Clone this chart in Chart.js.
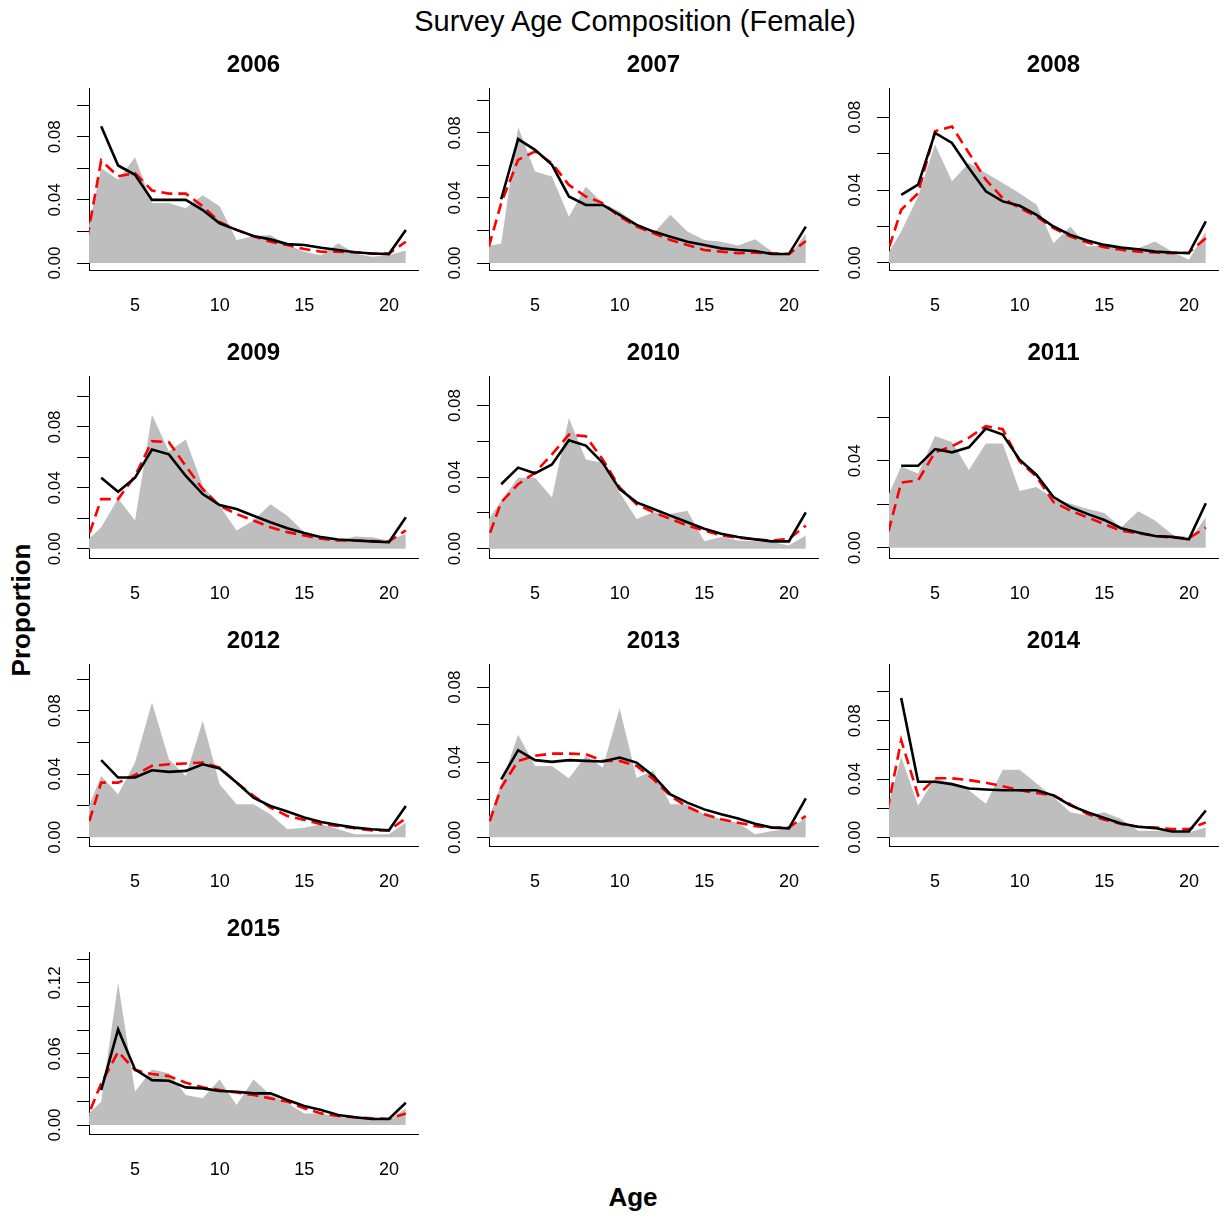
<!DOCTYPE html>
<html>
<head>
<meta charset="utf-8">
<script src="https://cdn.jsdelivr.net/npm/chart.js@4.4.1/dist/chart.umd.min.js"></script>
<style>
  body { margin: 0; background: #fff; width: 1225px; height: 1218px; position: relative; overflow: hidden;
         font-family: "Liberation Sans", Arial, sans-serif; }
  canvas { position: absolute; }
  .lbl { position: absolute; white-space: nowrap; color: #000; line-height: 1; transform: translate(-50%, -50%); }
</style>
</head>
<body>
<div class="lbl" style="left:635px;top:21px;font-size:29px">Survey Age Composition (Female)</div>
<div class="lbl" style="left:21px;top:610px;font-size:26px;font-weight:bold;transform:translate(-50%,-50%) rotate(-90deg)">Proportion</div>
<div class="lbl" style="left:633px;top:1197px;font-size:26px;font-weight:bold">Age</div>
<script>
// survey years, one panel each
const years = [2006, 2007, 2008, 2009, 2010, 2011, 2012, 2013, 2014, 2015];

// observed proportions at age, ages 2..21 (grey area)
const observed = [
  [0.010, 0.060, 0.0527, 0.067, 0.038, 0.038, 0.0347, 0.043, 0.036, 0.0146, 0.017, 0.0178, 0.0114, 0.0072, 0.005, 0.0125, 0.006, 0.004, 0.005, 0.008],
  [0.010, 0.012, 0.0836, 0.0563, 0.0532, 0.0285, 0.047, 0.0368, 0.0316, 0.0244, 0.0183, 0.0296, 0.0193, 0.0142, 0.0131, 0.0107, 0.0146, 0.007, 0.004, 0.0183],
  [0.0017, 0.0172, 0.0365, 0.065, 0.0448, 0.0549, 0.0494, 0.0439, 0.0383, 0.0319, 0.0108, 0.020, 0.009, 0.0099, 0.0081, 0.0081, 0.0117, 0.0062, 0.0017, 0.0172],
  [0.0035, 0.0141, 0.033, 0.0185, 0.088, 0.0641, 0.0717, 0.0413, 0.0283, 0.012, 0.0185, 0.0293, 0.0217, 0.0109, 0.0065, 0.0054, 0.008, 0.0076, 0.0054, 0.0098],
  [0.0126, 0.0268, 0.0397, 0.0397, 0.0286, 0.073, 0.0499, 0.048, 0.0314, 0.0166, 0.0203, 0.0194, 0.0212, 0.0041, 0.0065, 0.0046, 0.0041, 0.0037, 0.0018, 0.0074],
  [0.020, 0.0374, 0.0342, 0.0514, 0.0486, 0.0358, 0.0479, 0.0479, 0.0261, 0.028, 0.0226, 0.0202, 0.0179, 0.016, 0.0093, 0.0168, 0.0125, 0.0062, 0.0031, 0.014],
  [0.0124, 0.0388, 0.0272, 0.0473, 0.0853, 0.0494, 0.0388, 0.0737, 0.0336, 0.0209, 0.0209, 0.0146, 0.0051, 0.0061, 0.0082, 0.0051, 0.0019, 0.0019, 0.0019, 0.0093],
  [0.0036, 0.0283, 0.0546, 0.038, 0.038, 0.0315, 0.0434, 0.0372, 0.0688, 0.0318, 0.0354, 0.0176, 0.0176, 0.0123, 0.0096, 0.0078, 0.0016, 0.0034, 0.0043, 0.0105],
  [0.0122, 0.0551, 0.0219, 0.0405, 0.037, 0.0323, 0.023, 0.0463, 0.0463, 0.037, 0.0277, 0.0172, 0.0149, 0.0172, 0.0126, 0.0044, 0.0044, 0.0044, 0.0033, 0.0067],
  [0.006, 0.0197, 0.120, 0.0281, 0.0469, 0.0436, 0.0253, 0.0225, 0.0385, 0.0169, 0.0385, 0.0253, 0.0183, 0.0098, 0.0098, 0.007, 0.0056, 0.0042, 0.0037, 0.0141]
];

// first model fit, ages 3..21 (solid black)
const fitSolid = [
  [0.0866, 0.0618, 0.0559, 0.040, 0.040, 0.040, 0.0336, 0.0252, 0.021, 0.0171, 0.015, 0.012, 0.0114, 0.0097, 0.0083, 0.0068, 0.0061, 0.0057, 0.021],
  [0.0392, 0.0762, 0.0696, 0.0604, 0.0409, 0.0357, 0.0357, 0.0296, 0.0234, 0.0193, 0.0162, 0.0131, 0.0111, 0.009, 0.008, 0.0074, 0.0055, 0.0055, 0.0224],
  [0.0374, 0.043, 0.0714, 0.0659, 0.0521, 0.0393, 0.0338, 0.0314, 0.0264, 0.020, 0.0154, 0.0123, 0.0099, 0.0084, 0.0075, 0.0062, 0.0057, 0.0053, 0.0228],
  [0.0467, 0.0374, 0.0467, 0.0652, 0.062, 0.0478, 0.0359, 0.0287, 0.0261, 0.0217, 0.0174, 0.0135, 0.0104, 0.0076, 0.0061, 0.0054, 0.0048, 0.0043, 0.0207],
  [0.036, 0.0453, 0.0421, 0.0471, 0.0606, 0.0576, 0.048, 0.0333, 0.0259, 0.0222, 0.0185, 0.0148, 0.0111, 0.0083, 0.0065, 0.0052, 0.0041, 0.0041, 0.0203],
  [0.0377, 0.0377, 0.0454, 0.0439, 0.0462, 0.0548, 0.0521, 0.0405, 0.0335, 0.0233, 0.0187, 0.0156, 0.0128, 0.009, 0.007, 0.0054, 0.005, 0.0039, 0.0205],
  [0.0488, 0.0378, 0.0378, 0.0424, 0.0414, 0.042, 0.0462, 0.0435, 0.0346, 0.0251, 0.0198, 0.0163, 0.0125, 0.0097, 0.0078, 0.0061, 0.0051, 0.0044, 0.0198],
  [0.0309, 0.0464, 0.0411, 0.0402, 0.0411, 0.0407, 0.0404, 0.0425, 0.0398, 0.0327, 0.0229, 0.0185, 0.0149, 0.0123, 0.010, 0.0073, 0.0052, 0.0048, 0.0208],
  [0.0956, 0.0381, 0.0381, 0.0365, 0.0335, 0.0328, 0.0323, 0.0323, 0.0323, 0.0288, 0.0219, 0.0172, 0.0133, 0.0095, 0.0072, 0.0063, 0.004, 0.004, 0.0184],
  [0.0295, 0.0807, 0.0469, 0.0379, 0.0374, 0.0318, 0.0309, 0.0287, 0.0281, 0.0267, 0.0267, 0.0211, 0.016, 0.0126, 0.0084, 0.0065, 0.0051, 0.0051, 0.0188]
];

// second model fit, ages 2..21 (dashed red)
const fitDashed = [
  [0.0053, 0.065, 0.055, 0.057, 0.046, 0.044, 0.044, 0.036, 0.026, 0.021, 0.017, 0.0135, 0.0114, 0.0089, 0.0072, 0.0072, 0.0068, 0.006, 0.006, 0.0135],
  [0.0, 0.0368, 0.0634, 0.0686, 0.0614, 0.048, 0.0409, 0.0368, 0.0285, 0.0224, 0.0183, 0.0142, 0.0111, 0.008, 0.007, 0.006, 0.0064, 0.006, 0.0055, 0.0135],
  [0.0, 0.0292, 0.0383, 0.0723, 0.075, 0.0604, 0.0457, 0.0356, 0.0301, 0.0255, 0.0191, 0.0145, 0.0112, 0.0086, 0.0072, 0.0062, 0.0057, 0.0053, 0.0057, 0.0136],
  [0.0, 0.0326, 0.0326, 0.0478, 0.0707, 0.070, 0.0543, 0.0391, 0.0283, 0.0228, 0.0185, 0.0141, 0.0109, 0.0087, 0.0065, 0.0054, 0.0054, 0.005, 0.0048, 0.012],
  [0.0, 0.0259, 0.036, 0.0425, 0.0527, 0.0637, 0.0628, 0.0499, 0.0342, 0.0249, 0.0203, 0.0166, 0.0129, 0.0102, 0.0074, 0.0061, 0.0052, 0.0046, 0.0055, 0.0129],
  [0.0, 0.030, 0.031, 0.0439, 0.0467, 0.0506, 0.056, 0.0545, 0.0397, 0.0327, 0.021, 0.0171, 0.014, 0.0109, 0.0078, 0.0067, 0.0054, 0.0047, 0.0044, 0.0093],
  [0.0, 0.0346, 0.0346, 0.0395, 0.0452, 0.0462, 0.0467, 0.0473, 0.0441, 0.0346, 0.0262, 0.0188, 0.0135, 0.011, 0.0082, 0.0072, 0.0057, 0.0044, 0.0044, 0.012],
  [0.0, 0.0265, 0.0407, 0.0434, 0.0446, 0.0446, 0.0443, 0.0407, 0.0407, 0.038, 0.0309, 0.022, 0.0162, 0.0123, 0.0096, 0.0078, 0.006, 0.0052, 0.0052, 0.0114],
  [0.0074, 0.0667, 0.0288, 0.0405, 0.0405, 0.0393, 0.0374, 0.0351, 0.0323, 0.0305, 0.0288, 0.0226, 0.016, 0.0121, 0.0091, 0.0072, 0.0067, 0.0056, 0.0056, 0.0102],
  [0.0, 0.0351, 0.0618, 0.0464, 0.043, 0.0413, 0.0357, 0.0318, 0.0295, 0.0275, 0.0253, 0.0225, 0.0197, 0.0141, 0.0098, 0.0076, 0.0065, 0.0056, 0.0051, 0.0098]
];

// y axis limits per panel and spacing of the labelled ticks
const yLow = [-0.0044, -0.0043, -0.0039, -0.0061, -0.0052, -0.0047, -0.0055, -0.0046, -0.006, -0.0076];
const yHigh = [0.1109, 0.1076, 0.0961, 0.1135, 0.0965, 0.079, 0.1096, 0.0923, 0.119, 0.1461];
const yLabelStep = [0.04, 0.04, 0.04, 0.04, 0.04, 0.04, 0.04, 0.04, 0.04, 0.06];
const yTickStep = 0.02;
const xTicks = [5, 10, 15, 20];

const FONT = '"Liberation Sans", Arial, sans-serif';

function points(vals, firstAge) {
  return vals.map((v, k) => ({ x: firstAge + k, y: v }));
}

function yTickValues(hi) {
  const out = [];
  for (let k = 0; k * yTickStep <= hi + 1e-9; k++) out.push(+(k * yTickStep).toFixed(2));
  return out;
}

function drawPanel(i) {
  const col = i % 3, row = Math.floor(i / 3);
  const cv = document.createElement('canvas');
  cv.width = 469;
  cv.height = 288;
  cv.style.left = (19 + col * 400) + 'px';
  cv.style.top = (30 + row * 288) + 'px';
  document.body.appendChild(cv);

  const step = yLabelStep[i];
  new Chart(cv, {
    type: 'line',
    data: {
      datasets: [
        { data: points(fitSolid[i], 3), borderColor: '#000', borderWidth: 2.6 },
        { data: points(fitDashed[i], 2), borderColor: '#ff0000', borderWidth: 2.6, borderDash: [11, 6] },
        { data: points(observed[i], 2), borderColor: 'rgba(0,0,0,0)', borderWidth: 0,
          backgroundColor: '#bebebe', fill: 'origin' }
      ]
    },
    options: {
      responsive: false,
      animation: false,
      events: [],
      elements: { point: { radius: 0 }, line: { tension: 0 } },
      layout: { padding: { left: 0, right: 70, top: 0, bottom: 0 } },
      plugins: {
        legend: { display: false },
        tooltip: { enabled: false },
        title: {
          display: true,
          fullSize: false,   // centre the year over the plot, not the canvas
          text: String(years[i]),
          color: '#000',
          font: { family: FONT, size: 24, weight: 'bold', lineHeight: 1.2 },
          padding: { top: 20.6, bottom: 8.6 }
        }
      },
      scales: {
        x: {
          type: 'linear',
          min: 2.28,
          max: 21.72,
          afterFit: s => { s.height = 48; },
          afterBuildTicks: s => { s.ticks = xTicks.map(v => ({ value: v })); },
          grid: { display: false, drawTicks: false },
          border: { display: true, color: '#000', width: 1 },
          ticks: { color: '#000', font: { family: FONT, size: 18 }, padding: 25,
                   maxRotation: 0, autoSkip: false }
        },
        y: {
          type: 'linear',
          min: yLow[i],
          max: yHigh[i],
          afterFit: s => { s.width = 70; },
          afterBuildTicks: s => { s.ticks = yTickValues(yHigh[i]).map(v => ({ value: v })); },
          grid: { drawOnChartArea: false, drawTicks: true, tickLength: 12, color: '#000', lineWidth: 1 },
          border: { display: true, color: '#000', width: 1 },
          ticks: {
            color: '#000',
            font: { family: FONT, size: 17 },
            padding: 5.5,
            crossAlign: 'center',
            minRotation: 90,
            maxRotation: 90,
            autoSkip: false,
            callback: v => {
              const r = v / step;
              return Math.abs(r - Math.round(r)) < 1e-6 ? v.toFixed(2) : '';
            }
          }
        }
      }
    }
  });
}

years.forEach((y, i) => drawPanel(i));
</script>
</body>
</html>
